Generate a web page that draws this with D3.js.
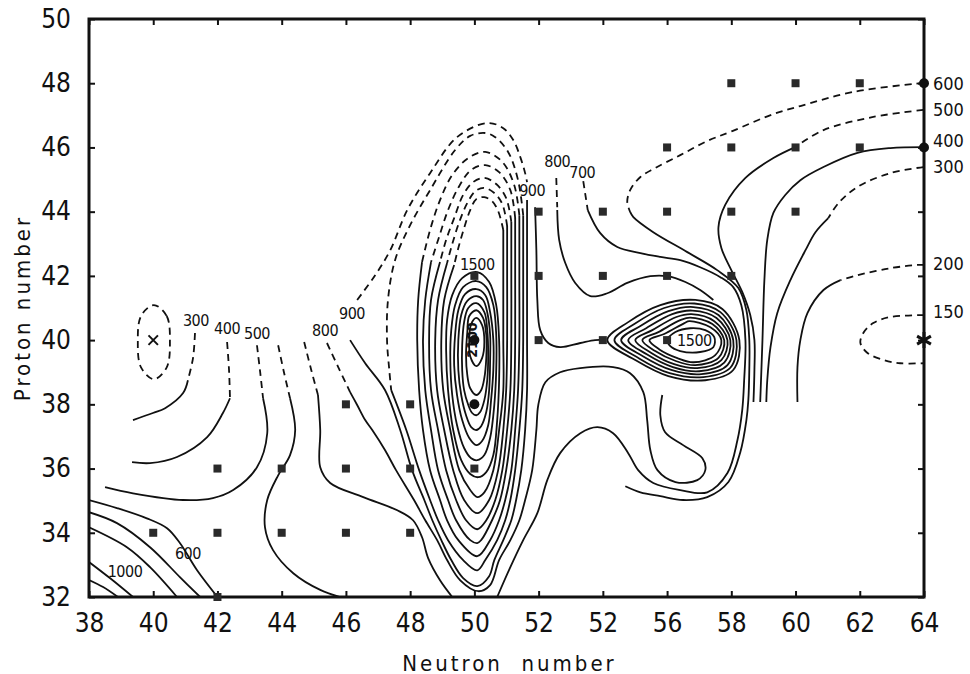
<!DOCTYPE html>
<html><head><meta charset="utf-8">
<script src="https://cdn.jsdelivr.net/npm/d3@7"></script>
<style>
body{margin:0;background:#fff}
text{font-family:"DejaVu Sans Condensed","DejaVu Sans",sans-serif;fill:#111}
</style>
</head><body>
<svg id="c" width="970" height="674"></svg>
<script>
// ---------- axes ----------
const xTicks = [38,40,42,44,46,48,50,52,54,56,58,60,62,64];
const xTickLabels = ["38","40","42","44","46","48","50","52","52","56","58","60","62","64"];
const yTicks = [32,34,36,38,40,42,44,46,48,50];
const yTickLabels = ["32","34","36","38","40","42","44","46","48","50"];

// ---------- measured nuclei ----------
const squares = [[58,48],[60,48],[62,48],[56,46],[58,46],[60,46],[62,46],
  [52,44],[54,44],[56,44],[58,44],[60,44],[50,42],[52,42],[54,42],[56,42],[58,42],
  [52,40],[54,40],[56,40],[46,38],[48,38],[42,36],[44,36],[46,36],[48,36],[50,36],
  [40,34],[42,34],[44,34],[46,34],[48,34],[42,32]];
const dots = [[64,48],[64,46],[50,40],[50,38]];
const stars = [[64,40]];
const crosses = [[40,40]];

// ---------- contour lines (neutron, proton) ----------
const cornerE = [[38,32.53],[38.44,32.31],[38.9,32]];
const cornerD = [[38,33.09],[38.65,32.59],[39.37,32]];
const cornerC = [[38,34.17],[39.18,33.55],[39.9,32.93],[40.74,32]];
const cornerB = [[38,34.64],[38.87,34.3],[39.9,33.55],[40.83,32.62],[41.46,32]];
const cornerA = [[38,35.02],[38.87,34.77],[39.8,34.45],[40.43,34.14],[40.83,33.68],[41.36,32.84],[42,32]];

const c300d = [[41.30,40.22],[41.24,39.45],[41.08,38.75]];
const c300s = [[41.08,38.75],[40.93,38.35],[40.37,37.88],[39.99,37.73],[39.37,37.51]];
const c400d = [[42.30,39.94],[42.36,39.07],[42.39,38.19]];
const c400s = [[42.39,38.19],[42.17,37.73],[41.68,36.98],[40.74,36.36],[39.90,36.17],[39.34,36.20]];
const c500d = [[43.23,39.84],[43.33,39.00],[43.42,38.19]];
const c500s = [[43.42,38.19],[43.55,37.10],[43.23,36.04],[42.49,35.33],[41.86,35.08],[40.93,35.02],[39.37,35.23],[38.50,35.42]];
const c600Ld = [[43.89,39.84],[44.07,39.00],[44.26,38.19]];
const c600Ls = [[44.26,38.19],[44.42,37.20],[44.26,36.42],[43.89,35.79],[43.55,35.02],[43.48,34.17],[43.73,33.46],[44.36,32.74],[45.20,32.22],[45.82,32.00]];
const c700Ld = [[44.70,39.94],[44.92,39.07],[45.13,38.29]];
const c700Ls = [[45.13,38.29],[45.20,37.20],[45.20,36.04],[45.51,35.55],[46.54,35.11],[47.60,34.70],[48.09,34.39],[48.37,33.86],[48.56,33.21],[48.93,32.52],[49.31,32.00]];
const c800Ld = [[45.41,39.91],[45.76,39.16],[46.13,38.38]];
const c800Ls = [[46.13,38.38],[46.35,37.98],[46.60,37.51],[46.82,37.20],[47.22,36.57],[47.56,35.95],[48.12,35.02],[48.47,34.39],[48.84,33.77],[49.15,33.15],[49.56,32.52],[50.12,32.18],[50.49,32.37],[50.77,33.15],[51.12,33.77],[51.40,34.39],[51.58,35.02],[51.80,35.95],[51.93,37.20],[51.99,37.98],[52.21,38.69],[52.67,39.00],[53.30,39.13],[54.32,39.16],[54.85,38.97],[55.26,38.38],[55.38,37.51],[55.48,36.57],[55.70,35.95],[56.26,35.58],[56.94,35.64],[57.19,35.95],[57.10,36.32],[56.50,36.73],[55.94,37.13],[55.79,37.66],[55.85,38.29]];
const ringX = [[40.02,41.09],[40.42,40.75],[40.52,39.95],[40.42,39.15],[40.02,38.78],[39.62,39.15],[39.52,39.95],[39.62,40.75]];

// N = 50 ridge
const A1d = [[46.35,41.25],[46.91,42.02],[47.38,42.80],[47.91,44.05],[48.62,45.20],[49.46,46.32],[50.40,46.76],[50.90,46.60],[51.21,46.23],[51.43,45.70],[51.58,45.20],[51.64,44.92]];
const A1s = [[46.13,40.00],[46.60,39.28],[47.22,38.44],[47.69,37.20],[48.06,35.95],[48.44,35.02],[48.69,34.39],[48.97,33.77],[49.28,33.15],[49.65,32.59],[50.09,32.34],[50.46,32.65],[50.62,33.15],[50.90,33.77],[51.15,34.39],[51.30,35.02],[51.46,35.95],[51.58,37.20],[51.64,38.44],[51.64,40.00],[51.64,41.87],[51.64,44.36]];
const A2d = [[51.52,43.89],[51.36,44.98],[51.05,45.86],[50.65,46.32],[50.34,46.45],[49.87,46.36],[49.40,45.92],[48.62,44.67],[48.00,43.58],[47.53,42.49],[47.31,41.25],[47.28,40.00],[47.35,39.07],[47.41,38.44]];
const A2s = [[47.41,38.44],[47.88,37.20],[48.28,35.95],[48.62,35.02],[48.87,34.39],[49.18,33.77],[49.65,33.15],[50.09,32.83],[50.34,33.15],[50.71,33.77],[50.96,34.39],[51.12,35.02],[51.27,35.95],[51.40,37.20],[51.49,38.44],[51.52,40.00],[51.52,41.87],[51.52,43.89]];
const A3d = [[51.40,43.89],[51.24,44.83],[50.87,45.55],[50.34,45.86],[49.81,45.67],[49.31,45.14],[48.93,44.36],[48.62,43.43],[48.37,42.43]];
const A3s = [[48.37,42.43],[48.25,41.25],[48.22,40.00],[48.28,38.44],[48.40,37.20],[48.62,35.95],[48.93,35.02],[49.15,34.39],[49.50,33.77],[50.09,33.27],[50.49,33.77],[50.77,34.39],[50.96,35.02],[51.15,35.95],[51.27,37.20],[51.36,38.44],[51.40,40.00],[51.40,41.87],[51.40,43.89]];
const A4d = [[51.27,43.80],[51.12,44.67],[50.77,45.23],[50.34,45.45],[49.90,45.30],[49.53,44.80],[49.18,44.05],[48.90,43.21],[48.65,42.43]];
const A4s = [[48.65,42.43],[48.47,41.25],[48.40,40.00],[48.47,38.44],[48.65,37.20],[48.87,35.95],[49.18,35.02],[49.43,34.39],[49.87,33.77],[50.09,33.68],[50.21,33.77],[50.55,34.39],[50.80,35.02],[50.99,35.95],[51.15,37.20],[51.24,38.44],[51.27,40.00],[51.27,41.87],[51.27,43.80]];
const A5d = [[51.15,43.68],[50.99,44.42],[50.68,44.86],[50.31,45.05],[49.96,44.92],[49.65,44.52],[49.37,43.80],[49.12,43.12],[48.93,42.43]];
const A5s = [[48.93,42.43],[48.65,41.25],[48.59,40.00],[48.65,38.44],[48.87,37.20],[49.12,35.95],[49.43,35.02],[49.74,34.39],[50.09,34.11],[50.37,34.39],[50.65,35.02],[50.87,35.95],[51.02,37.20],[51.12,38.44],[51.15,40.00],[51.15,41.87],[51.15,43.68]];
const A6d = [[51.02,43.55],[50.87,44.24],[50.62,44.58],[50.31,44.74],[50.03,44.64],[49.78,44.27],[49.53,43.68],[49.31,42.99],[49.15,42.40]];
const A6s = [[49.15,42.40],[48.87,41.25],[48.78,40.00],[48.84,38.44],[49.06,37.20],[49.34,35.95],[49.68,35.02],[50.09,34.61],[50.46,35.02],[50.74,35.95],[50.90,37.20],[50.99,38.44],[51.02,40.00],[51.02,41.87],[51.02,43.55]];
const A7d = [[50.90,43.43],[50.74,44.02],[50.55,44.33],[50.31,44.45],[50.06,44.39],[49.87,44.05],[49.68,43.49],[49.50,42.87],[49.37,42.34]];
const A7s = [[49.37,42.34],[49.06,41.25],[48.97,40.00],[49.03,38.44],[49.25,37.20],[49.53,35.95],[49.87,35.33],[50.09,35.11],[50.31,35.26],[50.59,35.95],[50.77,37.20],[50.90,38.44],[50.90,40.00],[50.90,41.87],[50.90,43.43]];
const E1 = [[50.09,42.12],[49.62,41.93],[49.31,41.40],[49.15,40.62],[49.12,39.69],[49.18,38.44],[49.34,37.20],[49.59,36.26],[49.87,35.83],[50.12,35.73],[50.37,35.89],[50.59,36.42],[50.71,37.51],[50.77,38.75],[50.77,40.00],[50.68,41.09],[50.46,41.81]];
const E2 = [[50.06,41.84],[49.65,41.65],[49.40,41.09],[49.28,40.31],[49.25,39.38],[49.31,38.29],[49.46,37.35],[49.68,36.64],[49.90,36.32],[50.09,36.26],[50.31,36.42],[50.49,36.95],[50.62,37.98],[50.68,39.07],[50.68,40.16],[50.59,41.09],[50.37,41.65]];
const E3 = [[50.06,41.59],[49.71,41.43],[49.50,40.93],[49.40,40.16],[49.37,39.22],[49.46,38.29],[49.62,37.51],[49.84,36.95],[50.06,36.73],[50.24,36.86],[50.43,37.35],[50.52,38.13],[50.59,39.07],[50.59,40.00],[50.49,40.87],[50.34,41.40]];
const E4 = [[50.06,41.37],[49.78,41.22],[49.59,40.78],[49.50,40.00],[49.50,39.07],[49.59,38.29],[49.74,37.66],[49.90,37.29],[50.06,37.20],[50.21,37.32],[50.37,37.76],[50.46,38.44],[50.49,39.38],[50.49,40.16],[50.40,40.87],[50.27,41.25]];
const E5 = [[50.06,41.15],[49.81,41.00],[49.68,40.56],[49.62,39.84],[49.62,39.07],[49.68,38.44],[49.81,37.98],[49.93,37.73],[50.06,37.66],[50.18,37.76],[50.31,38.13],[50.40,38.75],[50.43,39.53],[50.40,40.31],[50.31,40.87]];
const E6 = [[50.06,40.93],[49.84,40.75],[49.78,40.25],[49.74,39.53],[49.78,38.91],[49.87,38.50],[50.06,38.29],[50.21,38.44],[50.31,38.82],[50.37,39.44],[50.37,40.16],[50.27,40.69]];
const E7 = [[50.06,40.69],[49.90,40.50],[49.84,40.00],[49.87,39.50],[50.06,39.19],[50.24,39.44],[50.31,39.94],[50.24,40.47]];
const c900R = [[51.89,44.14],[51.93,42.80],[51.96,41.25],[52.05,40.31],[52.30,39.91],[52.67,39.78],[53.30,39.91],[53.76,40.00],[54.07,40.00]];

// upper middle / right side
const c800Td = [[52.55,45.05],[52.58,44.14]];
const c800Ts = [[52.58,44.05],[52.64,43.12],[52.83,42.40],[53.14,41.78],[53.61,41.37],[54.14,41.46],[54.76,41.78],[55.48,41.99],[56.01,41.99],[56.57,41.81],[57.03,41.56],[57.44,41.25]];
const c700Td = [[53.39,44.95],[53.53,44.05]];
const c700Ts = [[53.53,44.05],[53.92,43.33],[54.45,42.90],[55.17,42.71],[55.79,42.59],[56.41,42.49],[57.03,42.27],[57.66,41.96],[58.06,41.65],[58.31,41.09],[58.44,40.00],[58.40,38.75],[58.34,37.82],[58.19,36.88],[57.88,35.86],[57.25,35.26],[56.41,35.33],[55.57,35.55],[55.10,35.95],[54.79,36.48],[54.32,37.10],[53.83,37.29],[53.30,37.10],[52.67,36.48],[52.27,35.64],[51.96,34.61],[51.52,33.77],[51.12,32.93],[50.71,32.00]];
const c600Rd = [[63.98,48.01],[61.80,47.73],[60.15,47.29],[59.31,47.04],[58.03,46.51],[57.25,46.20],[56.41,45.76],[55.63,45.36],[55.17,45.08],[54.85,44.67],[54.76,44.30],[54.85,43.99]];
const c600Rs = [[54.85,43.99],[54.95,43.83],[55.57,43.36],[56.63,42.74],[57.56,42.18],[58.22,41.62],[58.47,40.93],[58.56,40.00],[58.56,39.07],[58.53,38.13],[58.47,37.51],[58.28,36.51],[57.91,35.58],[57.25,35.11],[56.50,35.02],[55.79,35.14],[55.17,35.26],[54.70,35.45]];
const c500Rd = [[63.98,47.17],[62.42,46.95],[60.87,46.54],[59.99,46.01]];
const c500Rs = [[59.99,46.01],[59.31,45.67],[58.44,45.05],[57.81,44.21],[57.60,43.52],[57.69,42.87],[58.00,42.18],[58.34,41.50],[58.59,40.78],[58.72,40.00],[58.72,39.07],[58.69,38.07]];
const c400R = [[63.98,46.01],[62.95,45.98],[61.93,45.83],[60.87,45.39],[60.15,44.98],[59.68,44.52],[59.31,43.96],[59.12,43.12],[59.03,41.87],[58.97,40.00],[58.90,38.07]];
const c300Rd = [[63.98,45.39],[62.95,45.20],[61.93,44.77],[61.34,44.27],[61.02,43.80]];
const c300Rs = [[61.02,43.80],[60.62,43.36],[60.31,42.80],[59.84,41.87],[59.43,40.84],[59.22,39.78],[59.12,38.75],[59.09,38.07]];
const c200d = [[64.00,42.34],[63.79,42.34],[62.95,42.24],[61.93,42.02],[61.40,41.87]];
const c200s = [[61.40,41.87],[60.87,41.56],[60.37,40.84],[60.15,40.00],[60.06,39.16],[60.06,38.07]];
const c150 = [[64.00,40.78],[62.95,40.72],[62.42,40.53],[62.11,40.22],[62.02,39.91],[62.24,39.60],[62.74,39.38],[63.26,39.28],[64.00,39.28]];

// N = 57 peak
const P0 = [[54.14,40.00],[54.79,40.56],[55.79,41.09],[56.88,41.25],[57.72,40.97],[58.25,40.00],[58.06,39.07],[57.19,38.75],[56.04,38.88],[55.01,39.38]];
const P1 = [[54.36,40.00],[54.98,40.50],[55.91,41.00],[56.85,41.14],[57.66,40.87],[58.16,40.00],[57.97,39.14],[57.13,38.85],[56.08,38.97],[55.13,39.43]];
const P2 = [[54.57,40.00],[55.17,40.44],[56.04,40.90],[56.82,41.03],[57.60,40.78],[58.06,40.00],[57.88,39.22],[57.07,38.94],[56.13,39.07],[55.26,39.49]];
const P3 = [[54.79,40.00],[55.35,40.37],[56.16,40.81],[56.79,40.92],[57.54,40.69],[57.97,40.00],[57.78,39.30],[57.00,39.03],[56.18,39.16],[55.38,39.55]];
const P4 = [[55.01,40.00],[55.54,40.31],[56.29,40.72],[56.76,40.81],[57.47,40.59],[57.88,40.00],[57.69,39.38],[56.94,39.13],[56.22,39.25],[55.51,39.60]];
const P5 = [[55.23,40.00],[55.73,40.25],[56.41,40.62],[56.72,40.70],[57.41,40.50],[57.78,40.00],[57.60,39.45],[56.88,39.22],[56.27,39.35],[55.63,39.66]];
const P6 = [[55.45,40.00],[55.91,40.19],[56.54,40.53],[56.69,40.59],[57.35,40.40],[57.69,40.00],[57.50,39.53],[56.82,39.31],[56.32,39.44],[55.76,39.71]];
const Pin = [[56.01,40.00],[56.26,40.25],[56.72,40.37],[57.19,40.31],[57.47,40.09],[57.44,39.78],[57.03,39.63],[56.41,39.66],[56.10,39.81]];

// contour value labels
const levelLabels = [
  {t:"1000",n:39.12,z:32.80},{t:"600",n:41.08,z:33.36},
  {t:"300",n:41.33,z:40.62},{t:"400",n:42.30,z:40.37},{t:"500",n:43.23,z:40.22},
  {t:"800",n:45.35,z:40.31},{t:"900",n:46.19,z:40.84},{t:"1500",n:50.09,z:42.34},
  {t:"900",n:51.80,z:44.67},{t:"800",n:52.58,z:45.55},{t:"700",n:53.36,z:45.23},
  {t:"1500",n:56.85,z:40.00}
];
const edgeLabels = [{t:"600",z:48.0},{t:"500",z:47.17},{t:"400",z:46.23},{t:"300",z:45.42},{t:"200",z:42.40},{t:"150",z:40.90}];
const centreLabel = {t:"2100",n:49.93,z:40.0};

// ---------- build ----------
const openLines = [
  [cornerE,false],[cornerD,false],[cornerC,false],[cornerB,false],[cornerA,false],
  [c300d,true],[c300s,false],[c400d,true],[c400s,false],[c500d,true],[c500s,false],
  [c600Ld,true],[c600Ls,false],[c700Ld,true],[c700Ls,false],[c800Ld,true],[c800Ls,false],
  [A1d,true],[A1s,false],[A2d,true],[A2s,false],[A3d,true],[A3s,false],[A4d,true],[A4s,false],
  [A5d,true],[A5s,false],[A6d,true],[A6s,false],[A7d,true],[A7s,false],[c900R,false],
  [c800Td,true],[c800Ts,false],[c700Td,true],[c700Ts,false],[c600Rd,true],[c600Rs,false],
  [c500Rd,true],[c500Rs,false],[c400R,false],[c300Rd,true],[c300Rs,false],
  [c200d,true],[c200s,false],[c150,true]
];
const closedLines = [[ringX,true],[E1,false],[E2,false],[E3,false],[E4,false],[E5,false],[E6,false],[E7,false],
  [P0,false],[P1,false],[P2,false],[P3,false],[P4,false],[P5,false],[P6,false],[Pin,false]];

const svg = d3.select("#c");
const x = d3.scaleLinear().domain([38,64]).range([89,924]);
const y = d3.scaleLinear().domain([32,50]).range([597,19]);

svg.append("defs").append("clipPath").attr("id","plot")
  .append("rect").attr("x",x(38)).attr("y",y(50)).attr("width",x(64)-x(38)).attr("height",y(32)-y(50));

const g = svg.append("g").attr("clip-path","url(#plot)");
const lineOpen = d3.line().x(d=>x(d[0])).y(d=>y(d[1])).curve(d3.curveCatmullRom.alpha(0.5));
const lineClosed = d3.line().x(d=>x(d[0])).y(d=>y(d[1])).curve(d3.curveCatmullRomClosed.alpha(0.5));

openLines.forEach(([pts,dash])=>{
  g.append("path").attr("d",lineOpen(pts)).attr("fill","none").attr("stroke","#111")
   .attr("stroke-width",1.8).attr("stroke-dasharray",dash?"7,5":null);
});
closedLines.forEach(([pts,dash])=>{
  g.append("path").attr("d",lineClosed(pts)).attr("fill","none").attr("stroke","#111")
   .attr("stroke-width",1.8).attr("stroke-dasharray",dash?"7,5":null);
});

// axes
const axB = d3.axisBottom(x).tickValues(xTicks).tickFormat((d,i)=>xTickLabels[i]).tickSizeInner(-6).tickSizeOuter(0).tickPadding(17);
const axL = d3.axisLeft(y).tickValues(yTicks).tickFormat((d,i)=>yTickLabels[i]).tickSizeInner(-6).tickSizeOuter(0).tickPadding(18);
const axT = d3.axisTop(x).tickValues(xTicks).tickFormat("").tickSizeInner(-6).tickSizeOuter(0);
const axR = d3.axisRight(y).tickValues(yTicks).tickFormat("").tickSizeInner(-6).tickSizeOuter(0);
const gb = svg.append("g").attr("transform",`translate(0,${y(32)})`).call(axB);
const gl = svg.append("g").attr("transform",`translate(${x(38)},0)`).call(axL);
svg.append("g").attr("transform",`translate(0,${y(50)})`).call(axT);
svg.append("g").attr("transform",`translate(${x(64)},0)`).call(axR);
svg.selectAll(".domain").remove();
svg.selectAll(".tick line").attr("stroke","#111").attr("stroke-width",2);
gb.selectAll("text").attr("font-size",26).style("font-family","'DejaVu Sans Condensed','DejaVu Sans',sans-serif");
gl.selectAll("text").attr("font-size",26).style("font-family","'DejaVu Sans Condensed','DejaVu Sans',sans-serif");

svg.append("rect").attr("x",x(38)).attr("y",y(50)).attr("width",x(64)-x(38)).attr("height",y(32)-y(50))
  .attr("fill","none").attr("stroke","#111").attr("stroke-width",3);

// markers
svg.append("g").selectAll("rect").data(squares).join("rect")
  .attr("x",d=>x(d[0])-4).attr("y",d=>y(d[1])-4).attr("width",8).attr("height",8).attr("fill","#2a2a2a");
svg.append("g").selectAll("circle").data(dots).join("circle")
  .attr("cx",d=>x(d[0])).attr("cy",d=>y(d[1])).attr("r",5).attr("fill","#111");
svg.append("g").selectAll("path").data(stars).join("path")
  .attr("transform",d=>`translate(${x(d[0])},${y(d[1])})`)
  .attr("d",d3.symbol(d3.symbolAsterisk,180)).attr("stroke","#111").attr("stroke-width",3).attr("fill","none");
svg.append("g").selectAll("path").data(crosses).join("path")
  .attr("transform",d=>`translate(${x(d[0])},${y(d[1])})`)
  .attr("d",d3.symbol(d3.symbolTimes,60)).attr("stroke","#111").attr("stroke-width",2).attr("fill","none");

// labels
svg.append("g").selectAll("text").data(levelLabels).join("text")
  .attr("x",d=>x(d.n)).attr("y",d=>y(d.z)).attr("text-anchor","middle").attr("dominant-baseline","central")
  .attr("font-size",16).attr("letter-spacing",-0.5).text(d=>d.t);
svg.append("g").selectAll("text").data(edgeLabels).join("text")
  .attr("x",x(64)+9).attr("y",d=>y(d.z)).attr("dominant-baseline","central")
  .attr("font-size",18).text(d=>d.t);
svg.append("text").attr("transform",`translate(${x(centreLabel.n)},${y(centreLabel.z)}) rotate(-90)`)
  .attr("text-anchor","middle").attr("dominant-baseline","central").attr("font-size",14).attr("font-weight","bold").text(centreLabel.t);

// titles
svg.append("text").attr("x",(x(38)+x(64))/2+3).attr("y",663).attr("text-anchor","middle").attr("dominant-baseline","central")
  .attr("font-size",22).attr("letter-spacing",3).style("white-space","pre").text("Neutron  number");
svg.append("text").attr("transform",`translate(22,${(y(32)+y(50))/2})rotate(-90)`).attr("text-anchor","middle").attr("dominant-baseline","central")
  .attr("font-size",22).attr("letter-spacing",3).text("Proton number");
</script>
</body></html>
